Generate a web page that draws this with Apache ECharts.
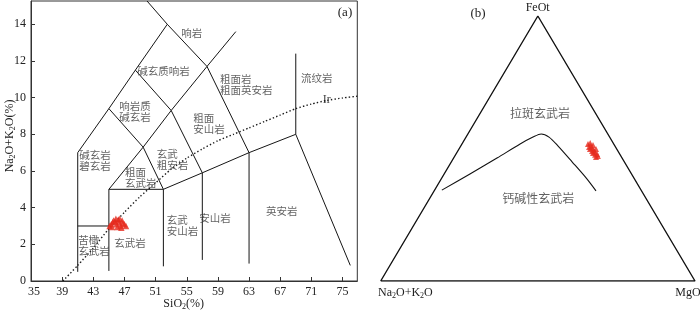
<!DOCTYPE html>
<html><head><meta charset="utf-8">
<script src="https://cdn.jsdelivr.net/npm/echarts@6/dist/echarts.min.js"></script>
<style>html,body{margin:0;padding:0;background:#fff}#c{width:700px;height:312px}</style>
</head><body><div id="c"></div>
<script>
// ---------- data: panel (a) TAS ----------
const xTicks = [35,39,43,47,51,55,59,63,67,71,75];
const yTicks = [0,2,4,6,8,10,12,14];
const tasLines = [
  [[41,0.5],[41,7]],
  [[41,3],[45,3]],
  [[45,0.55],[45,5],[52,5]],
  [[52,0.8],[52,5],[57,5.9],[63,7],[69,8],[76,0.85]],
  [[57,1.15],[57,5.9]],
  [[63,0.95],[63,7]],
  [[69,8],[69,12.4]],
  [[45,5],[49.4,7.3],[52,5]],
  [[49.4,7.3],[53,9.3],[57.6,11.7],[61.3,13.6]],
  [[41,7],[45,9.4],[48.4,11.5],[52.5,14],[49.9,15.27]],
  [[45,9.4],[49.4,7.3]],
  [[48.4,11.5],[53,9.3],[57,5.9]],
  [[52.5,14],[57.6,11.7],[63,7]]
];
const irSiO2 = [39.1,41,43,45,47,49,51,53,55,57,59,61,63,65,67,69,71,73,75,76.9];
const irAlk  = [0,0.85,1.8,2.85,3.75,4.6,5.35,6.1,6.7,7.2,7.65,8.0,8.35,8.7,9.05,9.4,9.65,9.85,9.98,10.08];
const sampleSiO2 = [45.1,45.3,45.5,45.6,45.8,45.9,46.0,46.2,46.3,46.4,46.5,46.7,46.8,47.0,47.2,45.4,46.1,46.6];
const sampleAlk  = [3.0,3.1,3.2,3.3,3.25,3.4,3.1,3.35,3.2,3.4,3.0,3.3,3.15,3.1,3.0,2.95,2.95,2.9];
const rockNames = ['响岩','碱玄质响岩','粗面岩\n粗面英安岩','流纹岩','响岩质\n碱玄岩','粗面\n安山岩','碱玄岩\n碧玄岩','玄武\n粗安岩','粗面\n玄武岩','苦橄\n玄武岩','玄武岩','玄武\n安山岩','安山岩','英安岩'];
const rockX = [55.64,52.0,59.27,71.69,48.36,55.85,43.22,51.14,47.07,41.07,47.71,52.43,58.63,67.2];
const rockY = [13.51,11.47,10.74,11.05,9.26,8.6,6.55,6.6,5.63,1.96,2.09,3.05,3.45,3.82];
const rockAlign = ['center','center','left','center','center','left','center','left','left','left','center','left','center','center'];

// ---------- data: panel (b) AFM (percent: A = Na2O+K2O, F = FeOt, M = MgO) ----------
const curveA = [63.4,51.4,39.8,29.8,24.4,21.2,19.3,18.1,16.6,15.2,14.5];
const curveF = [34.3,40.4,46.4,51.7,54.3,55.5,54.3,50.9,44.9,38.9,34.0];
const curveM = [2.3,8.2,13.8,18.5,21.3,23.3,26.4,31.0,38.5,45.9,51.5];
const afmA = [8.2,7.3,7.7,8.4,7.7,6.8,7.5,8.2,7.5,6.6,7.2,8.0,7.3,8.3,8.5,8.1];
const afmF = [51.7,52.1,50.9,50.6,50.2,51.3,49.4,49.1,48.7,49.8,47.9,47.6,47.2,48.3,49.8,46.8];
const afmM = [40.1,40.6,41.4,41.0,42.1,41.9,43.1,42.7,43.8,43.6,44.9,44.4,45.5,43.4,41.7,45.1];
const fieldNames = ['拉斑玄武岩','钙碱性玄武岩'];
const fieldA = [17.6,34.2];
const fieldF = [63.4,31.3];
const fieldM = [19.0,34.5];

// ---------- chart ----------
const SERIF = "'Liberation Serif','DejaVu Serif',serif";
const CJK = "'Noto Sans CJK SC','Noto Sans CJK JP',sans-serif";
const tern = (a,f,m) => { const s=a+f+m; return [(m+f/2)/s, f/s]; };

const series = [];
tasLines.forEach(pts => series.push({
  type:'line', xAxisIndex:0, yAxisIndex:0, data:pts, symbol:'none', silent:true,
  lineStyle:{color:'#151515', width:1}, z:3
}));
series.push({
  type:'line', xAxisIndex:0, yAxisIndex:0, symbol:'none', silent:true, smooth:0.2,
  data: irSiO2.map((x,i)=>[x, irAlk[i]]),
  lineStyle:{color:'#1a1a1a', width:1.4, type:[1.4,2.2]}, z:3
});
series.push({
  type:'scatter', xAxisIndex:0, yAxisIndex:0, symbol:'triangle', symbolSize:6.5,
  data: sampleSiO2.map((x,i)=>[x, sampleAlk[i]]),
  itemStyle:{color:'#e62a1e'}, z:5
});
series.push({
  type:'scatter', xAxisIndex:0, yAxisIndex:0, symbolSize:0, silent:true,
  data: rockNames.map((n,i)=>({name:n, value:[rockX[i], rockY[i]], label:{align:rockAlign[i]}})),
  label:{show:true, position:[0,0], formatter:'{b}', verticalAlign:'middle',
    fontFamily:CJK, fontSize:10.5, color:'#3a3a3a', lineHeight:11}, z:4
});
series.push({
  type:'scatter', xAxisIndex:0, yAxisIndex:0, symbolSize:0, silent:true,
  data:[{name:'Ir', value:[72.98, 9.87]}],
  label:{show:true, position:[0,0], formatter:'{b}', align:'center', verticalAlign:'middle',
    fontFamily:SERIF, fontSize:12, color:'#111'}, z:4
});
// panel b
series.push({
  type:'line', xAxisIndex:1, yAxisIndex:1, symbol:'none', silent:true,
  data:[tern(100,0,0), tern(0,100,0), tern(0,0,100), tern(100,0,0)],
  lineStyle:{color:'#111', width:1.4}, z:3
});
series.push({
  type:'line', xAxisIndex:1, yAxisIndex:1, symbol:'none', silent:true, smooth:0.3,
  data: curveA.map((a,i)=>tern(a, curveF[i], curveM[i])),
  lineStyle:{color:'#111', width:1.1}, z:3
});
series.push({
  type:'scatter', xAxisIndex:1, yAxisIndex:1, symbol:'triangle', symbolSize:6,
  data: afmA.map((a,i)=>tern(a, afmF[i], afmM[i])),
  itemStyle:{color:'#e62a1e'}, z:5
});
series.push({
  type:'scatter', xAxisIndex:1, yAxisIndex:1, symbolSize:0, silent:true,
  data: fieldNames.map((n,i)=>({name:n, value:tern(fieldA[i], fieldF[i], fieldM[i])})),
  label:{show:true, position:[0,0], formatter:'{b}', align:'center', verticalAlign:'middle',
    fontFamily:CJK, fontSize:12, color:'#3a3a3a'}, z:4
});

const subRich = {s:{fontSize:8, fontFamily:SERIF, padding:[6,0,0,0], color:'#222'}};
const option = {
  animation:false,
  backgroundColor:'#fff',
  grid:[
    {left:31, top:1, width:326.3, height:280, show:true, borderColor:'#333', borderWidth:1, containLabel:false},
    {left:380.7, top:16, width:314.3, height:265, show:false}
  ],
  xAxis:[
    {type:'value', gridIndex:0, min:35, max:76.9, splitLine:{show:false},
     axisLine:{show:true, lineStyle:{color:'#333'}},
     axisTick:{show:true, inside:true, length:4, customValues:xTicks, lineStyle:{color:'#333'}},
     axisLabel:{customValues:xTicks, fontFamily:SERIF, fontSize:12, color:'#222', margin:5,
       formatter:(v)=> v===35 ? '{m|35}' : String(v),
       rich:{m:{fontFamily:SERIF, fontSize:12, color:'#222', padding:[0,0,0,6]}}}},
    {type:'value', gridIndex:1, min:0, max:1, show:false}
  ],
  yAxis:[
    {type:'value', gridIndex:0, min:0, max:15.27, splitLine:{show:false},
     axisLine:{show:true, lineStyle:{color:'#333'}},
     axisTick:{show:true, inside:true, length:4, customValues:yTicks, lineStyle:{color:'#333'}},
     axisLabel:{customValues:yTicks, fontFamily:SERIF, fontSize:12, color:'#222', margin:5}},
    {type:'value', gridIndex:1, min:0, max:1, show:false}
  ],
  graphic:[
    {type:'text', x:183.7, y:304, style:{text:'SiO{s|2}(%)', rich:subRich, fontFamily:SERIF, fontSize:12, fill:'#222', align:'center', verticalAlign:'middle'}},
    {type:'text', x:10, y:136, rotation:Math.PI/2, style:{text:'Na{s|2}O+K{s|2}O(%)', rich:subRich, fontFamily:SERIF, fontSize:12, fill:'#222', align:'center', verticalAlign:'middle'}},
    {type:'text', x:345, y:13, style:{text:'(a)', fontFamily:SERIF, fontSize:13, fill:'#222', align:'center', verticalAlign:'middle'}},
    {type:'text', x:478, y:14, style:{text:'(b)', fontFamily:SERIF, fontSize:13, fill:'#222', align:'center', verticalAlign:'middle'}},
    {type:'text', x:537.7, y:8, style:{text:'FeOt', fontFamily:SERIF, fontSize:12, fill:'#222', align:'center', verticalAlign:'middle'}},
    {type:'text', x:378, y:293, style:{text:'Na{s|2}O+K{s|2}O', rich:subRich, fontFamily:SERIF, fontSize:12, fill:'#222', align:'left', verticalAlign:'middle'}},
    {type:'text', x:688, y:293, style:{text:'MgO', fontFamily:SERIF, fontSize:12, fill:'#222', align:'center', verticalAlign:'middle'}}
  ],
  series
};
const chart = echarts.init(document.getElementById('c'));
chart.setOption(option);
</script></body></html>
